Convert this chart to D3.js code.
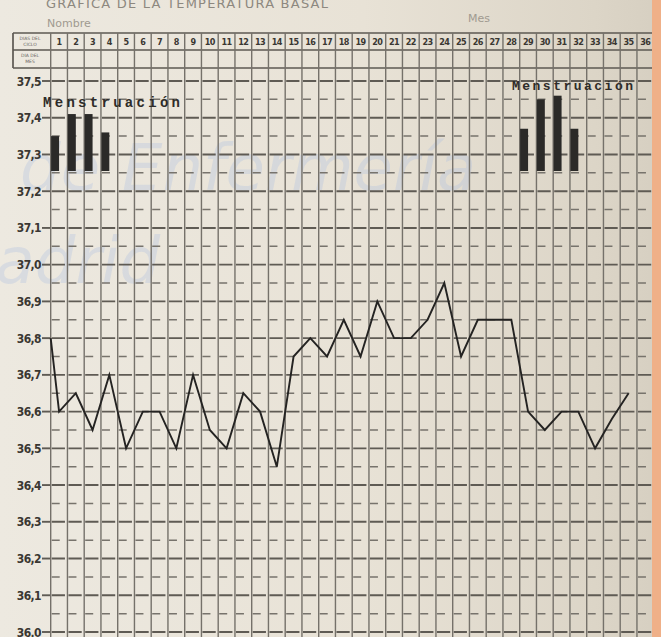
<!DOCTYPE html>
<html>
<head>
<meta charset="utf-8">
<script src="https://cdn.jsdelivr.net/npm/d3@7"></script>
<style>
  body { margin: 0; background: #e9e4d9; }
  svg { display: block; }
</style>
</head>
<body>
<script>
// basal temperature, one value per day (day 0 = value carried in at the left border)
var days = [0, 1, 2, 3, 4, 5, 6, 7, 8, 9, 10, 11, 12, 13, 14, 15, 16, 17, 18, 19, 20,
            21, 22, 23, 24, 25, 26, 27, 28, 29, 30, 31, 32, 33, 34, 35];
var temps = [36.8, 36.6, 36.65, 36.55, 36.7, 36.5, 36.6, 36.6, 36.5, 36.7, 36.55,
             36.5, 36.65, 36.6, 36.45, 36.75, 36.8, 36.75, 36.85, 36.75, 36.9,
             36.8, 36.8, 36.85, 36.95, 36.75, 36.85, 36.85, 36.85, 36.6, 36.55,
             36.6, 36.6, 36.5, 36.58, 36.65];

// menstruation marks (bars drawn on the grid)
var mensDaysA = [1, 2, 3, 4];
var mensTopA = [37.35, 37.41, 37.41, 37.36];
var mensDaysB = [29, 30, 31, 32];
var mensTopB = [37.37, 37.45, 37.46, 37.37];
var mensBase = 37.255;

var dayLabels = d3.range(1, 37);
var tempTicks = [36.0, 36.1, 36.2, 36.3, 36.4, 36.5, 36.6, 36.7, 36.8, 36.9, 37.0, 37.1, 37.2, 37.3, 37.4, 37.5];
var halfTicks = [36.05, 36.15, 36.25, 36.35, 36.45, 36.55, 36.65, 36.75, 36.85, 36.95, 37.05, 37.15, 37.25, 37.35, 37.45];

var W = 661, H = 637;
var nCols = 36;

var x = d3.scaleLinear().domain([0, nCols]).range([50.7, 50.7 + nCols * 16.75]);
var y = d3.scaleLinear().domain([36.0, 37.5]).range([632, 81]);
var cw = x(1) - x(0);

var svg = d3.select("body").append("svg")
  .attr("width", W)
  .attr("height", H);

// paper
var defs = svg.append("defs");
var grad = defs.append("linearGradient").attr("id", "paper");
grad.append("stop").attr("offset", "0%").attr("stop-color", "#ede9e0");
grad.append("stop").attr("offset", "55%").attr("stop-color", "#e8e2d6");
grad.append("stop").attr("offset", "90%").attr("stop-color", "#dcd5c7");
grad.append("stop").attr("offset", "100%").attr("stop-color", "#d6cfc1");
svg.append("rect").attr("width", W).attr("height", H).attr("fill", "url(#paper)");

// watermark
var wm = svg.append("g")
  .attr("fill", "#a9bde0")
  .attr("fill-opacity", 0.3)
  .style("font-family", "'DejaVu Sans', sans-serif")
  .style("font-style", "italic");
wm.append("text").attr("x", 100).attr("y", 190).attr("text-anchor", "end")
  .style("font-size", "64px").text("de");
wm.append("text").attr("x", 122).attr("y", 190)
  .style("font-size", "64px").text("Enfermería");
wm.append("text").attr("x", 160).attr("y", 283).attr("text-anchor", "end")
  .style("font-size", "64px").text("Madrid");

// title and header texts
svg.append("text")
  .attr("x", 46).attr("y", 8)
  .attr("textLength", 282).attr("lengthAdjust", "spacing")
  .attr("fill", "#8d887f")
  .style("font-family", "'DejaVu Sans', sans-serif")
  .style("font-size", "13px")
  .text("GRÁFICA DE LA TEMPERATURA BASAL");

svg.append("text")
  .attr("x", 47).attr("y", 27)
  .attr("fill", "#a09a90")
  .style("font-family", "'DejaVu Sans', sans-serif")
  .style("font-size", "11px")
  .text("Nombre");

svg.append("text")
  .attr("x", 468).attr("y", 22)
  .attr("fill", "#a09a90")
  .style("font-family", "'DejaVu Sans', sans-serif")
  .style("font-size", "11px")
  .text("Mes");

var gridCol = "#75716a";

// header rows
var hdr = svg.append("g").attr("stroke", "#5c5852").attr("stroke-width", 1.7);
[33, 50, 68].forEach(function(v) {
  hdr.append("line").attr("x1", 13).attr("x2", W).attr("y1", v).attr("y2", v);
});
hdr.append("line").attr("x1", 13).attr("x2", 13).attr("y1", 33).attr("y2", 68);

svg.append("g")
  .selectAll("text")
  .data(dayLabels)
  .enter()
  .append("text")
  .attr("x", function(d) { return x(d - 0.5); })
  .attr("y", 45)
  .attr("text-anchor", "middle")
  .attr("fill", "#3a3732")
  .style("font-family", "'DejaVu Sans Condensed', sans-serif")
  .style("font-weight", "bold")
  .style("font-size", "9px")
  .style("letter-spacing", "-0.5px")
  .text(function(d) { return d; });

var tiny = svg.append("g")
  .attr("fill", "#6a665f")
  .attr("text-anchor", "middle")
  .style("font-family", "'DejaVu Sans', sans-serif")
  .style("font-size", "4.5px");
tiny.append("text").attr("x", 30).attr("y", 40).text("DIAS DEL");
tiny.append("text").attr("x", 30).attr("y", 46).text("CICLO");
tiny.append("text").attr("x", 30).attr("y", 57).text("DIA DEL");
tiny.append("text").attr("x", 30).attr("y", 63).text("MES");

// horizontal grid: full steps (long dashes) and half steps (short dashes)
svg.append("g")
  .selectAll("line")
  .data(tempTicks)
  .enter()
  .append("line")
  .attr("x1", x(0) + 1).attr("x2", W)
  .attr("y1", function(d) { return y(d); })
  .attr("y2", function(d) { return y(d); })
  .attr("stroke", "#5f5b54")
  .attr("stroke-width", 1.9)
  .attr("stroke-dasharray", (cw - 3.5) + " 3.5");

svg.append("g")
  .selectAll("line")
  .data(halfTicks)
  .enter()
  .append("line")
  .attr("x1", x(0) + 1).attr("x2", W)
  .attr("y1", function(d) { return y(d); })
  .attr("y2", function(d) { return y(d); })
  .attr("stroke", "#77736c")
  .attr("stroke-width", 1.5)
  .attr("stroke-dasharray", "8 " + (cw - 8));

// left ticks + labels
var fmt = d3.format(".1f");
var yl = svg.append("g");
yl.selectAll("line")
  .data(tempTicks)
  .enter()
  .append("line")
  .attr("x1", 42).attr("x2", x(0))
  .attr("y1", function(d) { return y(d); })
  .attr("y2", function(d) { return y(d); })
  .attr("stroke", "#5f5b54")
  .attr("stroke-width", 1.9);
yl.selectAll("text")
  .data(tempTicks)
  .enter()
  .append("text")
  .attr("x", 41)
  .attr("y", function(d) { return y(d) + 4.5; })
  .attr("text-anchor", "end")
  .attr("fill", "#3a3732")
  .style("font-family", "'DejaVu Sans Condensed', sans-serif")
  .style("font-weight", "bold")
  .style("font-size", "12px")
  .style("letter-spacing", "-0.6px")
  .text(function(d) { return fmt(d).replace(".", ","); });

// vertical grid
svg.append("g")
  .selectAll("line")
  .data(d3.range(0, nCols + 1))
  .enter()
  .append("line")
  .attr("x1", function(d) { return x(d); })
  .attr("x2", function(d) { return x(d); })
  .attr("y1", 33).attr("y2", H)
  .attr("stroke", gridCol)
  .attr("stroke-width", 1.4);

// menstruation bars
function mensBars(ds, tops) {
  svg.append("g")
    .selectAll("rect")
    .data(ds)
    .enter()
    .append("rect")
    .attr("x", function(d) { return x(d - 0.5) - 8; })
    .attr("width", 8)
    .attr("y", function(d, i) { return y(tops[i]); })
    .attr("height", function(d, i) { return y(mensBase) - y(tops[i]); })
    .attr("fill", "#2b2a28");
}
mensBars(mensDaysA, mensTopA);
mensBars(mensDaysB, mensTopB);

var mt = svg.append("g")
  .attr("fill", "#2e2c29")
  .style("font-family", "'Liberation Mono', 'DejaVu Sans Mono', monospace")
  .style("font-weight", "bold");
mt.append("text").attr("x", 43).attr("y", 107)
  .attr("textLength", 137).attr("lengthAdjust", "spacing")
  .style("font-size", "14px").text("Menstruación");
mt.append("text").attr("x", 512).attr("y", 90)
  .attr("textLength", 121).attr("lengthAdjust", "spacing")
  .style("font-size", "13px").text("Menstruación");

// temperature line
var line = d3.line()
  .x(function(d, i) { return d === 0 ? x(0) : x(d - 0.5); })
  .y(function(d, i) { return y(temps[i]); });

svg.append("path")
  .datum(days)
  .attr("d", line)
  .attr("fill", "none")
  .attr("stroke", "#242322")
  .attr("stroke-width", 1.9)
  .attr("stroke-linejoin", "miter");

// page edge
svg.append("rect")
  .attr("x", 652).attr("y", 0)
  .attr("width", W - 652).attr("height", H)
  .attr("fill", "#efb088");
</script>
</body>
</html>
